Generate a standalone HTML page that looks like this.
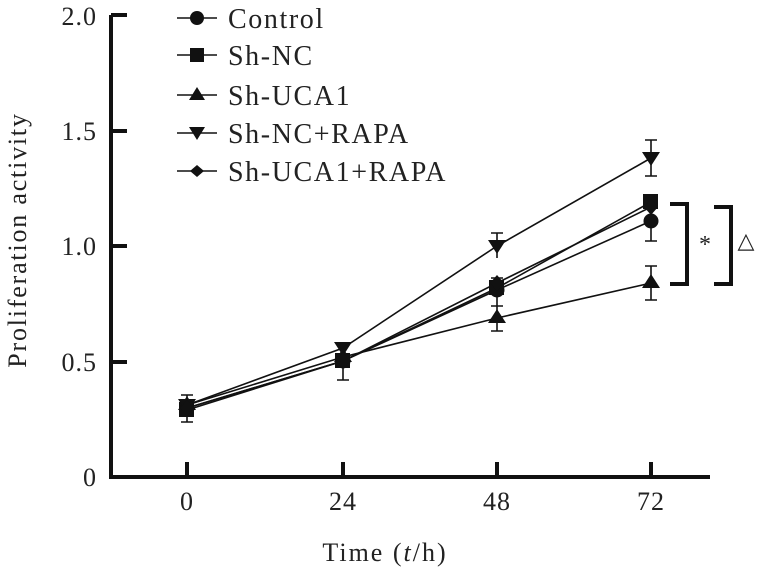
<!DOCTYPE html>
<html><head><style>body{margin:0;background:#fff}svg{display:block}text{font-family:"Liberation Serif",serif;fill:#222}</style></head><body>
<svg width="761" height="580" viewBox="0 0 761 580">
<g stroke="#111" stroke-width="4" fill="none">
<path d="M111,15 V477 H710"/>
<path d="M111,15 H127 M111,131 H127 M111,246 H127 M111,362 H127"/>
<path d="M187,477 V462 M343,477 V462 M497,477 V462 M651,477 V462"/>
<path d="M670,204 H687 V284 H670"/>
<path d="M714,207 H731 V284 H714"/>
</g>
<g font-size="26" text-anchor="end" letter-spacing="1">
<text x="97" y="25">2.0</text><text x="97" y="140">1.5</text><text x="97" y="255">1.0</text><text x="97" y="371">0.5</text><text x="97" y="486">0</text>
</g>
<g font-size="26" text-anchor="middle" letter-spacing="1">
<text x="187" y="510">0</text><text x="343" y="510">24</text><text x="497" y="510">48</text><text x="651" y="510">72</text>
<text x="385" y="561" letter-spacing="2">Time (<tspan font-style="italic">t</tspan>/h)</text>
</g>
<text transform="translate(26,240) rotate(-90)" font-size="26" text-anchor="middle" letter-spacing="1.8">Proliferation activity</text>
<text x="705" y="252" font-size="24" text-anchor="middle">*</text>
<text x="746" y="248" font-size="22" text-anchor="middle">△</text>
<g stroke="#111" stroke-width="1.6" fill="none">
<polyline points="187,408 343,361 497,290 651,221"/>
<polyline points="187,410 343,361 497,288 651,202"/>
<polyline points="187,405 343,357 497,318 651,283"/>
<polyline points="187,405 343,348 497,246 651,158"/>
<polyline points="187,408 343,361 497,283 651,207"/>
<path d="M187,395 V422 M181,422 H193 M181,395 H193 M343,345 V380 M337,380 H349 M337,345 H349 M497,278 V306 M491,306 H503 M491,278 H503 M651,140 V176 M645,140 H657 M645,176 H657 M651,200 V241 M645,241 H657 M497,233 V258 M491,233 H503 M651,266 V300 M645,266 H657 M645,300 H657 M497,303 V331 M491,331 H503"/>
<path d="M177,18 H217 M177,55 H217 M177,95 H217 M177,133 H217 M177,171 H217"/>
</g>
<g fill="#111">
<circle cx="187" cy="408" r="7.5"/><circle cx="343" cy="361" r="7.5"/><circle cx="497" cy="290" r="7.5"/><circle cx="651" cy="221" r="7.5"/>
<rect x="179" y="402" width="15" height="15"/><rect x="335" y="353" width="15" height="15"/><rect x="489" y="280" width="15" height="15"/><rect x="643" y="194" width="15" height="15"/>
<path d="M187,396 l9,14 h-18z M343,348 l9,14 h-18z M497,309 l9,14 h-18z M651,274 l9,14 h-18z"/>
<path d="M178,399 h18 l-9,14z M334,342 h18 l-9,14z M488,240 h18 l-9,14z M642,152 h18 l-9,14z"/>
<path d="M187,400 l7,8 -7,8 -7,-8z M343,353 l7,8 -7,8 -7,-8z M497,275 l7,8 -7,8 -7,-8z M651,199 l7,8 -7,8 -7,-8z"/>
<circle cx="197" cy="18" r="7"/>
<rect x="190" y="48" width="14" height="14"/>
<path d="M197,87 l8,13 h-16z M189,127 h16 l-8,13z M197,165 l7,6 -7,6 -7,-6z"/>
</g>
<g font-size="28" letter-spacing="1.6">
<text x="228" y="28">Control</text><text x="228" y="65">Sh-NC</text><text x="228" y="105">Sh-UCA1</text><text x="228" y="143">Sh-NC+RAPA</text><text x="228" y="181">Sh-UCA1+RAPA</text>
</g>
</svg>
</body></html>
